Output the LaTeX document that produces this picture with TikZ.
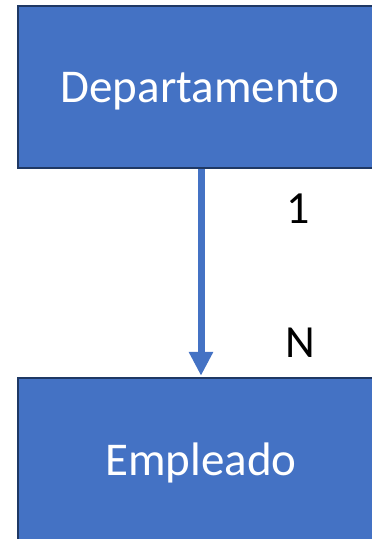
\documentclass[tikz,border=0pt]{standalone}
\usepackage{fontspec}
\setmainfont{Carlito}
\usetikzlibrary{arrows.meta}
\definecolor{boxfill}{HTML}{4472C4}
\definecolor{boxline}{HTML}{1F3864}
\begin{document}
\begin{tikzpicture}[x=1pt,y=-1pt,
  entity/.style={draw=boxline,line width=2.5pt,fill=boxfill,rectangle,inner sep=0pt},
  etext/.style={anchor=base,text=white,font=\fontsize{47}{55}\selectfont,inner sep=0pt},
  card/.style={anchor=base,text=black,font=\fontsize{46}{54}\selectfont,inner sep=0pt},
  rel/.style={draw=boxfill,line width=7pt,-{Triangle[width=23pt,length=24pt]},shorten >=1pt}]
\useasboundingbox (0,0) rectangle (372,539);
\node[entity,minimum width=366pt,minimum height=162pt] (dept) at (201,87) {};
\node[entity,minimum width=366pt,minimum height=166pt] (emp) at (201,461) {};
\node[etext] (tdept) at (200,102) {Departamento};
\node[etext] (temp) at (201,475) {Empleado};
\node[card] (c1) at (298,223) {1};
\node[card] (cn) at (300,357) {N};
\draw[rel] (dept.south) -- (emp.north);
\end{tikzpicture}
\end{document}
